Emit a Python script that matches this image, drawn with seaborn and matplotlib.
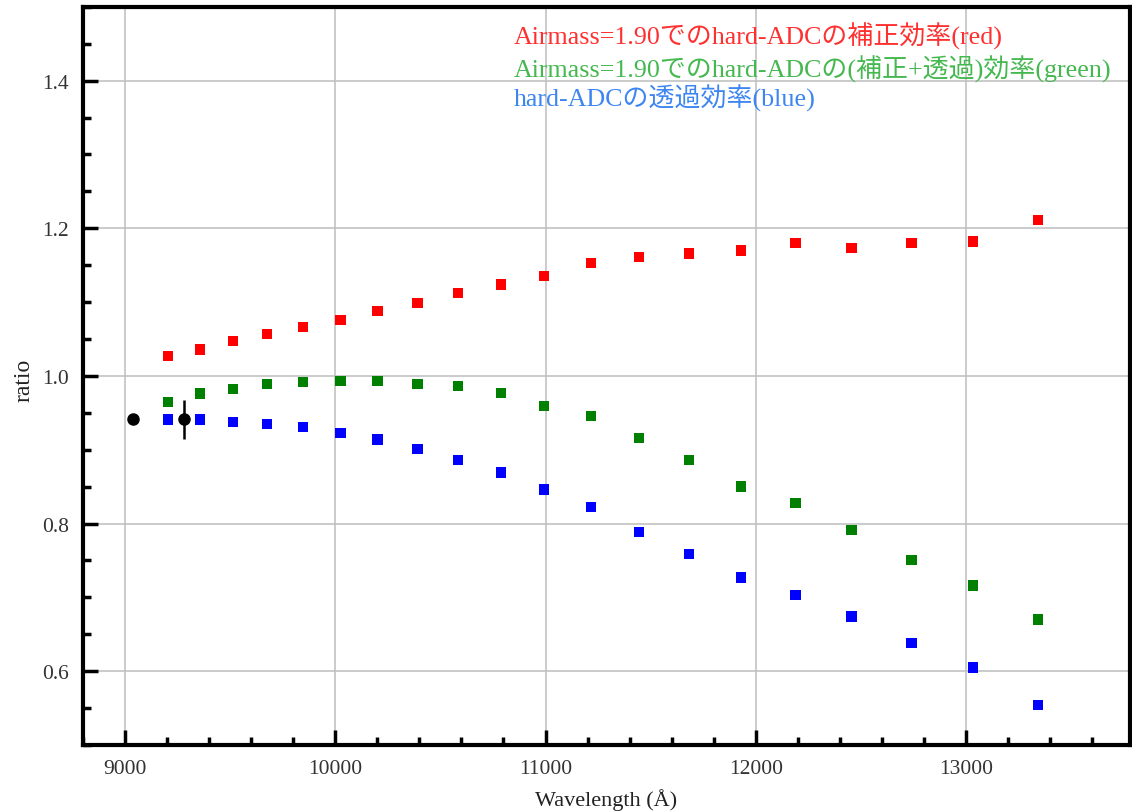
import matplotlib
matplotlib.use('Agg')
import matplotlib.pyplot as plt
import numpy as np
import pandas as pd
import seaborn as sns
from matplotlib.ticker import MultipleLocator

# wavelengths of the filter points (Angstrom)
wave = [9204, 9356, 9513, 9674, 9845, 10025, 10201, 10391, 10585, 10789,
        10993, 11216, 11444, 11682, 11928, 12189, 12455, 12740, 13034, 13343]

# correction efficiency at airmass 1.90 (red)
red_ratio = [1.027, 1.036, 1.047, 1.057, 1.066, 1.076, 1.088, 1.099, 1.112, 1.124,
             1.135, 1.153, 1.161, 1.166, 1.170, 1.180, 1.173, 1.180, 1.182, 1.211]
# correction + transmission (green)
green_ratio = [0.965, 0.976, 0.982, 0.989, 0.992, 0.993, 0.993, 0.989, 0.986, 0.977,
               0.959, 0.946, 0.916, 0.886, 0.850, 0.828, 0.791, 0.751, 0.716, 0.670]
# transmission of hard-ADC (blue)
blue_ratio = [0.941, 0.941, 0.938, 0.935, 0.931, 0.923, 0.914, 0.901, 0.886, 0.869,
              0.846, 0.822, 0.789, 0.759, 0.727, 0.703, 0.674, 0.638, 0.605, 0.554]

# black reference points
ref_wave = [9038, 9280]
ref_ratio = [0.941, 0.941]
ref_err = [0.0, 0.026]

legend_lines = [
    ('Airmass=1.90でのhard-ADCの補正効率(red)', '#ff3030'),
    ('Airmass=1.90でのhard-ADCの(補正+透過)効率(green)', '#45b84f'),
    ('hard-ADCの透過効率(blue)', '#3d86f2'),
]

sns.set_theme(style='white')
plt.rcParams['font.family'] = ['Liberation Serif', 'Noto Sans CJK JP']

df = pd.DataFrame({
    'wave': wave * 3,
    'ratio': red_ratio + green_ratio + blue_ratio,
    'set': ['red'] * len(wave) + ['green'] * len(wave) + ['blue'] * len(wave),
})

fig = plt.figure(figsize=(11.32, 8.12), dpi=100)
ax = fig.add_axes([0.0733, 0.0813, 0.925, 0.909])

sns.scatterplot(data=df, x='wave', y='ratio', hue='set',
                palette={'red': '#ff0000', 'green': '#008000', 'blue': '#0000ff'},
                marker='s', s=55, linewidth=0, legend=False, ax=ax, zorder=3)
ax.errorbar(ref_wave, ref_ratio, yerr=ref_err, fmt='o', color='black',
            ms=8, elinewidth=1.8, capsize=0, zorder=4)

ax.set_xlim(8800, 13780)
ax.set_ylim(0.5, 1.5)
ax.xaxis.set_major_locator(MultipleLocator(1000))
ax.xaxis.set_minor_locator(MultipleLocator(200))
ax.yaxis.set_minor_locator(MultipleLocator(0.05))
ax.set_yticks([0.6, 0.8, 1.0, 1.2, 1.4])
ax.set_yticklabels(['0.6', '0.8', '1.0', '1.2', '1.4'])

ax.grid(True, which='major', color='#bdbdbd', linewidth=1.1)
ax.set_axisbelow(True)
for sp in ax.spines.values():
    sp.set_linewidth(3)
    sp.set_color('black')
ax.tick_params(which='major', direction='in', length=11, width=2.5,
               bottom=True, left=True, top=False, right=False,
               labelsize=15.5, colors='black', labelcolor='#333333', pad=10)
ax.tick_params(which='minor', direction='in', length=6, width=2.5,
               top=False, right=False, bottom=True, left=True, colors='black')

ax.set_xlabel('Wavelength (Å)', fontsize=16, color='#222222')
ax.set_ylabel('ratio', fontsize=17, color='#222222')
ax.xaxis.set_label_coords(0.5, -0.058)
ax.yaxis.set_label_coords(-0.056, 0.495)
ax.yaxis.label.set_va('center')

ys = [0.961, 0.917, 0.877]
for (txt, col), yy in zip(legend_lines, ys):
    ax.text(0.411, yy, txt, transform=ax.transAxes, color=col, fontsize=18.7,
            va='center', ha='left')

fig.savefig('out.png', dpi=100)
